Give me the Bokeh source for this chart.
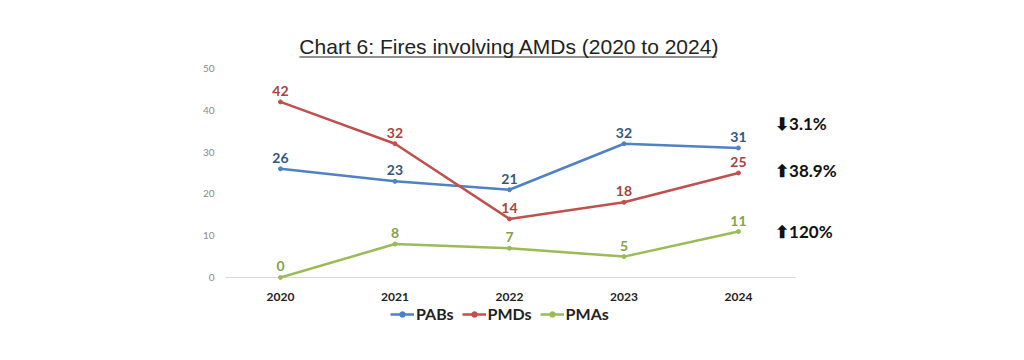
from bokeh.plotting import figure
from bokeh.models import (ColumnDataSource, Label, Legend, LegendItem, Arrow, Range1d)
from bokeh.core.properties import value
from bokeh.embed import file_html
from bokeh.resources import INLINE

# ---- data ----
years = [2020, 2021, 2022, 2023, 2024]
pabs = [26, 23, 21, 32, 31]
pmds = [42, 32, 14, 18, 25]
pmas = [0, 8, 7, 5, 11]
series_names = ["PABs", "PMDs", "PMAs"]
change_texts = ["\u2b073.1%", "\u2b0638.9%", "\u2b06120%"]
y_ticks = [0, 10, 20, 30, 40, 50]
x_tick_labels = ["2020", "2021", "2022", "2023", "2024"]
title_text = "Chart 6: Fires involving AMDs (2020 to 2024)"

line_colors = ["#4f81c4", "#c0504d", "#9bbb59"]
label_colors = ["#34557f", "#a84240", "#86a04c"]

p = figure(width=1008, height=344, output_backend="svg", toolbar_location=None,
           x_range=Range1d(years[0] - 0.978, years[0] + 5.136),
           y_range=Range1d(-15.55, 61.96),
           min_border_left=168, min_border_right=140, min_border_top=18,
           min_border_bottom=2)
p.outline_line_color = None
p.background_fill_color = "#ffffff"
p.border_fill_color = "#ffffff"
p.xgrid.grid_line_color = None
p.ygrid.grid_line_color = None
p.xaxis.visible = False
p.yaxis.visible = False

# baseline at zero (across the category span)
p.segment(x0=[years[0] - 0.48], y0=[0], x1=[years[-1] + 0.5], y1=[0],
          line_color="#d9d9d9", line_width=1)

# y tick labels
p.text(x=[years[0] - 0.576] * len(y_ticks), y=y_ticks, text=[str(t) for t in y_ticks],
       text_align="right", text_baseline="middle", text_font=value("Lato"),
       text_font_size="10px", text_color="#8a8a8a")
# x tick labels
p.text(x=years, y=[-4.78] * len(years), text=x_tick_labels,
       text_align="center", text_baseline="middle", text_font=value("Lato"),
       text_font_style="bold", text_font_size="12px", text_color="#222222")

items = []
for name, vals, lc, tc in zip(series_names, [pabs, pmds, pmas], line_colors, label_colors):
    src = ColumnDataSource(dict(x=years, y=vals, t=[str(v) for v in vals]))
    ln = p.line("x", "y", source=src, line_color=lc, line_width=2.5)
    sc = p.scatter("x", "y", source=src, size=4, color=lc)
    p.text("x", "y", text="t", source=src, text_align="center", text_baseline="bottom",
           y_offset=-6, text_font=value("Lato"), text_font_style="bold",
           text_font_size="14px", text_color=tc)
    items.append(LegendItem(label=name, renderers=[ln, sc]))

legend = Legend(items=items, orientation="horizontal", location=(222, 19),
                label_text_font="Lato", label_text_font_style="bold",
                label_text_font_size="16px", label_text_color="#222222",
                glyph_width=24, glyph_height=14, spacing=8, label_standoff=2,
                padding=2, margin=0, border_line_color=None,
                background_fill_alpha=0)
p.add_layout(legend)

# change annotations
for txt, yy in zip(change_texts, [36.8, 25.6, 11.0]):
    p.add_layout(Label(x=years[-1] + 0.32, y=yy, text=txt, text_baseline="middle",
                       text_align="left", text_font="Lato", text_font_style="bold",
                       text_font_size="17px", text_color="#111111"))

# title (underlined)
p.add_layout(Label(x=2022.0, y=55.38, text=title_text,
                   text_align="center", text_baseline="middle",
                   text_font="Liberation Sans", text_font_size="21px",
                   text_color="#222222"))
p.add_layout(Arrow(start=None, end=None,
                   x_start=2020.166, y_start=52.75, x_end=2023.808, y_end=52.75,
                   line_color="#222222", line_width=1.2))

open("out.html", "w").write(file_html(p, INLINE))
